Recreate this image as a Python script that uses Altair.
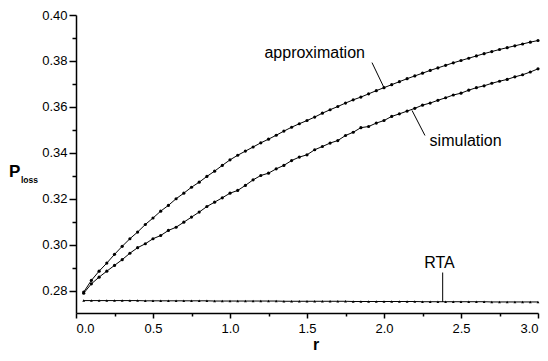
import altair as alt
import pandas as pd

# ---- data ----
r_values = [0.05, 0.10, 0.15, 0.20, 0.25, 0.30, 0.35, 0.40, 0.45, 0.50,
            0.55, 0.60, 0.65, 0.70, 0.75, 0.80, 0.85, 0.90, 0.95, 1.00,
            1.05, 1.10, 1.15, 1.20, 1.25, 1.30, 1.35, 1.40, 1.45, 1.50,
            1.55, 1.60, 1.65, 1.70, 1.75, 1.80, 1.85, 1.90, 1.95, 2.00,
            2.05, 2.10, 2.15, 2.20, 2.25, 2.30, 2.35, 2.40, 2.45, 2.50,
            2.55, 2.60, 2.65, 2.70, 2.75, 2.80, 2.85, 2.90, 2.95, 3.00]

approximation = [0.2795, 0.2846, 0.2886, 0.2921, 0.2959, 0.2994, 0.3027, 0.3056, 0.3089, 0.3117,
                 0.3147, 0.3172, 0.3201, 0.3225, 0.3251, 0.3273, 0.3298, 0.3321, 0.3346, 0.3370,
                 0.3390, 0.3408, 0.3426, 0.3444, 0.3460, 0.3477, 0.3495, 0.3512, 0.3527, 0.3541,
                 0.3556, 0.3573, 0.3588, 0.3602, 0.3617, 0.3631, 0.3643, 0.3657, 0.3671, 0.3684,
                 0.3697, 0.3710, 0.3723, 0.3735, 0.3747, 0.3759, 0.3770, 0.3781, 0.3792, 0.3802,
                 0.3812, 0.3822, 0.3832, 0.3841, 0.3850, 0.3858, 0.3866, 0.3874, 0.3882, 0.3889]

simulation = [0.2790, 0.2831, 0.2860, 0.2886, 0.2911, 0.2936, 0.2964, 0.2988, 0.3005, 0.3027,
              0.3041, 0.3063, 0.3077, 0.3099, 0.3121, 0.3143, 0.3167, 0.3186, 0.3205, 0.3225,
              0.3237, 0.3259, 0.3283, 0.3302, 0.3312, 0.3331, 0.3346, 0.3367, 0.3382, 0.3392,
              0.3414, 0.3428, 0.3443, 0.3454, 0.3476, 0.3490, 0.3510, 0.3515, 0.3530, 0.3541,
              0.3559, 0.3570, 0.3582, 0.3594, 0.3608, 0.3617, 0.3629, 0.3640, 0.3652, 0.3660,
              0.3673, 0.3684, 0.3692, 0.3703, 0.3712, 0.3720, 0.3731, 0.3740, 0.3752, 0.3766]

rta = [0.2758, 0.2758, 0.2758, 0.2758, 0.2758, 0.2758, 0.2758, 0.2758, 0.2757, 0.2757,
       0.2757, 0.2757, 0.2757, 0.2757, 0.2757, 0.2757, 0.2757, 0.2756, 0.2756, 0.2756,
       0.2756, 0.2756, 0.2756, 0.2756, 0.2756, 0.2756, 0.2755, 0.2755, 0.2755, 0.2755,
       0.2755, 0.2755, 0.2755, 0.2755, 0.2755, 0.2754, 0.2754, 0.2754, 0.2754, 0.2754,
       0.2754, 0.2754, 0.2754, 0.2754, 0.2753, 0.2753, 0.2753, 0.2753, 0.2753, 0.2753,
       0.2753, 0.2753, 0.2753, 0.2752, 0.2752, 0.2752, 0.2752, 0.2752, 0.2752, 0.2752]

x_major = [0.0, 0.5, 1.0, 1.5, 2.0, 2.5, 3.0]
x_minor = [0.25, 0.75, 1.25, 1.75, 2.25, 2.75]
y_major = [0.28, 0.30, 0.32, 0.34, 0.36, 0.38, 0.40]
y_minor = [0.29, 0.31, 0.33, 0.35, 0.37, 0.39]

label_text = ["approximation", "simulation", "RTA"]
label_r = [1.55, 2.53, 2.36]
label_p = [0.3833, 0.3454, 0.2920]

leader_r1 = [1.922, 2.182, 2.381]
leader_p1 = [0.3793, 0.3585, 0.2880]
leader_r2 = [2.000, 2.266, 2.381]
leader_p2 = [0.3684, 0.3476, 0.2752]

# ---- tables ----
df = pd.DataFrame({"r": r_values, "approximation": approximation,
                   "simulation": simulation, "RTA": rta})
labels = pd.DataFrame({"text": label_text, "r": label_r, "p": label_p})
leaders = pd.DataFrame({"r1": leader_r1, "p1": leader_p1, "r2": leader_r2, "p2": leader_p2})

FONT = "Liberation Sans"
xs = alt.Scale(domain=[0, 3.0], nice=False, zero=False)
ys = alt.Scale(domain=[0.2704, 0.40], nice=False, zero=False)

x_axis = alt.Axis(values=x_major, format=".1f", title=None, orient="bottom",
                  tickSize=5, labelPadding=4, labelFontSize=13)
y_axis = alt.Axis(values=y_major, format=".2f", title=None, orient="left",
                  tickSize=7, labelPadding=2, labelFontSize=13)

base = alt.Chart(df)

approx_layer = base.mark_line(
    color="black", strokeWidth=1,
    point=alt.OverlayMarkDef(filled=True, size=10, color="black")
).encode(
    x=alt.X("r:Q", scale=xs, axis=x_axis),
    y=alt.Y("approximation:Q", scale=ys, axis=y_axis),
)

sim_layer = base.mark_line(
    color="black", strokeWidth=1,
    point=alt.OverlayMarkDef(filled=True, size=10, color="black")
).encode(
    x=alt.X("r:Q", scale=xs, axis=None),
    y=alt.Y("simulation:Q", scale=ys, axis=None),
)

rta_layer = base.mark_line(
    color="black", strokeWidth=1,
    point=alt.OverlayMarkDef(filled=True, size=8, shape="triangle-up", color="black")
).encode(
    x=alt.X("r:Q", scale=xs, axis=None),
    y=alt.Y("RTA:Q", scale=ys, axis=None),
)

minor_layer = base.mark_point(opacity=0).encode(
    x=alt.X("r:Q", scale=xs, axis=alt.Axis(values=x_minor, labels=False, tickSize=3,
                                           domain=False, title=None, orient="bottom")),
    y=alt.Y("RTA:Q", scale=ys, axis=alt.Axis(values=y_minor, labels=False, tickSize=4,
                                             domain=False, title=None, orient="left")),
)

text_layer = alt.Chart(labels).mark_text(
    font=FONT, fontSize=16, color="black", align="center", baseline="middle"
).encode(
    x=alt.X("r:Q", scale=xs, axis=None),
    y=alt.Y("p:Q", scale=ys, axis=None),
    text="text:N",
)

leader_layer = alt.Chart(leaders).mark_rule(color="black", strokeWidth=1).encode(
    x=alt.X("r1:Q", scale=xs, axis=None),
    x2="r2:Q",
    y=alt.Y("p1:Q", scale=ys, axis=None),
    y2="p2:Q",
)

p_title = alt.Chart(pd.DataFrame({"t": ["P"]})).mark_text(
    font=FONT, fontSize=17, fontWeight="bold", color="black", align="left", baseline="alphabetic"
).encode(x=alt.value(-67), y=alt.value(162), text="t:N")

loss_title = alt.Chart(pd.DataFrame({"t": ["loss"]})).mark_text(
    font=FONT, fontSize=8.5, fontWeight="bold", color="black", align="left", baseline="alphabetic"
).encode(x=alt.value(-55), y=alt.value(168), text="t:N")

r_title = alt.Chart(pd.DataFrame({"t": ["r"]})).mark_text(
    font=FONT, fontSize=16, fontWeight="bold", color="black", align="center", baseline="alphabetic"
).encode(x=alt.value(240), y=alt.value(335), text="t:N")

chart = alt.layer(
    approx_layer, sim_layer, rta_layer, minor_layer, leader_layer, text_layer,
    p_title, loss_title, r_title
).resolve_axis(
    x="independent", y="independent"
).properties(
    width=462, height=298,
    padding={"left": 68, "top": 7, "right": 2, "bottom": 40},
    autosize=alt.AutoSizeParams(type="none"),
).configure_view(
    stroke=None
).configure_axis(
    grid=False, domainColor="black", tickColor="black", labelColor="black",
    labelFont=FONT, domainWidth=1.5, tickWidth=1.5
)

chart.save("out.html", embed_options={"renderer": "svg", "actions": False})
